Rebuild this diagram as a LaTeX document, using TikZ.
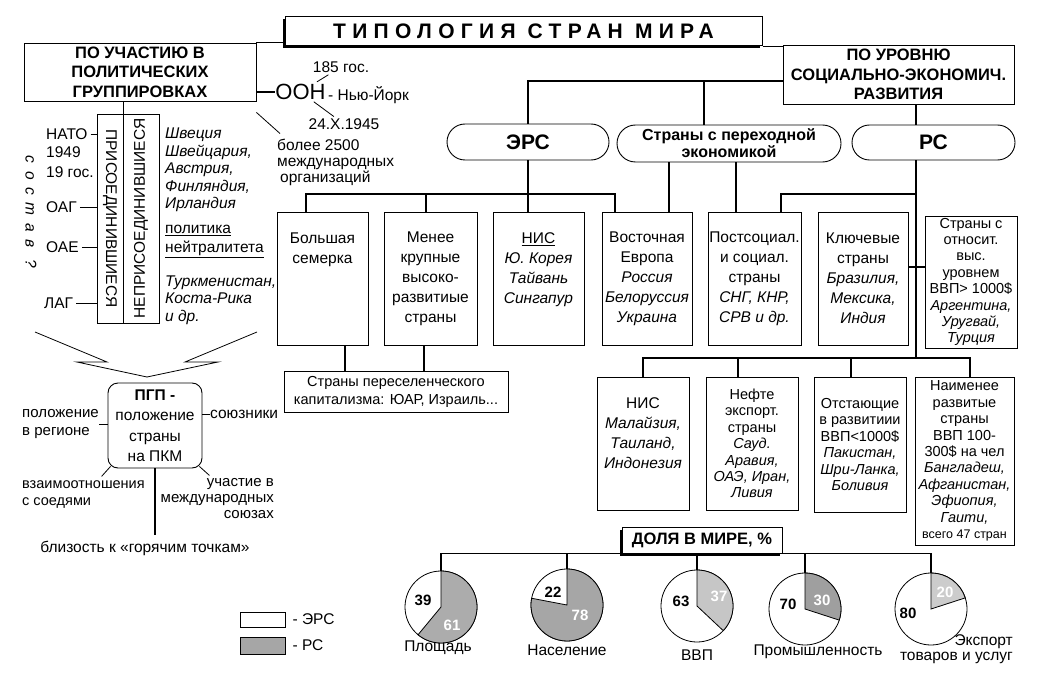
\documentclass[tikz,border=0pt]{standalone}
\usepackage{fontspec}
\setmainfont{Liberation Sans}
\usepackage{tikz}
\usetikzlibrary{calc,shapes.misc,shadows}

\newcommand{\bodysz}{\fontsize{15.5}{20}\selectfont}
\newcommand{\listsz}{\fontsize{15.5}{17.5}\selectfont}
\newcommand{\smallsz}{\fontsize{14.5}{16.4}\selectfont}
\newcommand{\hdrsz}{\fontsize{16.5}{19.5}\selectfont\bfseries}
\newcommand{\bigsz}{\fontsize{21}{24}\selectfont\bfseries}

\begin{document}
\begin{tikzpicture}[x=1pt,y=-1pt,
    box/.style 2 args={draw,line width=0.9pt,minimum width=#1pt,minimum height=#2pt,inner sep=0pt,align=center,font=\bodysz},
    oval/.style 2 args={draw,rounded rectangle,line width=0.9pt,minimum width=#1pt,minimum height=#2pt,inner sep=0pt,align=center},
    shadowbox/.style={draw,fill=white,line width=1pt,inner sep=0pt,
        drop shadow={shadow xshift=-2.5pt,shadow yshift=-2.5pt,opacity=1,fill=black}},
    txt/.style={inner sep=0pt,font=\bodysz},
    lst/.style={inner sep=0pt,align=left,font=\listsz\itshape},
    link/.style={line width=1.2pt},
    tick/.style={line width=0.8pt},
    pie/.style={draw,circle,line width=0.8pt,minimum size=72pt,inner sep=0pt},
    num/.style={inner sep=0pt,font=\fontsize{15}{15}\selectfont\bfseries}]

    \useasboundingbox (0,0) rectangle (1046,679);

    % headings
    \node[shadowbox,minimum width=477pt,minimum height=29pt,font=\bigsz\addfontfeature{LetterSpace=30}] (title) at (523.5,31.5) {ТИПОЛОГИЯ СТРАН МИРА};
    \node[box={232}{58},font=\hdrsz] (pol) at (140,72) {ПО УЧАСТИЮ В\\ПОЛИТИЧЕСКИХ\\ГРУППИРОВКАХ};
    \node[box={231}{59},font=\hdrsz] (soc) at (898.5,74.5) {ПО УРОВНЮ\\СОЦИАЛЬНО-ЭКОНОМИЧ.\\РАЗВИТИЯ};
    \draw[link] (pol.north east) -- (pol.north east -| title.west);
    \draw[link] (title.south east) -- (title.south east -| soc.west);

    % UN
    \node[txt,font=\fontsize{22}{22}\selectfont] (oon) at (300.5,92) {ООН};
    \node[txt,anchor=west] (nyc) at (328,95) {- Нью-Йорк};
    \node[txt] (members) at (341,67) {185 гос.};
    \node[txt] (founded) at (344,124) {24.X.1945};
    \node[txt,anchor=west,align=left,font=\fontsize{15.5}{16}\selectfont] (orgs) at (277,162) {более 2500\\международных\\\hspace{3pt}организаций};
    \draw[link] (pol.east |- oon.west) -- (oon.west);
    \draw[tick,shorten <=4pt,shorten >=4pt] (oon) -- (members);
    \draw[tick,shorten <=3pt,shorten >=3pt] (oon) -- (founded);
    \draw[tick] ([yshift=-11pt]pol.south east) -- ([shift={(3pt,5pt)}]orgs.north west);

    % joined / non-joined
    \node[box={26}{209}] (joined) at (110,218.5) {\rotatebox{-90}{ПРИСОЕДИНИВШИЕСЯ}};
    \node[box={36}{209}] (nonjoined) at (141,218.5) {\rotatebox{90}{НЕПРИСОЕДИНИВШИЕСЯ}};
    \draw[link] (joined.north east) -- (joined.north east |- pol.south);

    \node[txt,anchor=west] (nato) at (46,134) {НАТО};
    \node[txt,anchor=west] (natoyear) at (46,152) {1949};
    \node[txt,anchor=west] (natocount) at (46,172) {19 гос.};
    \node[txt,anchor=west] (oas) at (46,207) {ОАГ};
    \node[txt,anchor=west] (oau) at (46,247) {ОАЕ};
    \node[txt,anchor=west] (las) at (44,303) {ЛАГ};
    \foreach \n in {nato,oas,oau,las}
        \draw[tick,shorten <=3pt] (\n.east) -- (\n.east -| joined.west);
    \node[txt,rotate=-90,font=\bodysz\itshape\addfontfeature{LetterSpace=50}] (sostav) at (31,212) {состав ?};

    \node[lst,anchor=west] (neutral) at (165,170) {Швеция\\Швейцария,\\Австрия,\\Финляндия,\\Ирландия};
    \node[txt,anchor=west,align=left,font=\fontsize{15.5}{19}\selectfont] (policy) at (165,241.5) {\underline{политика}\\\underline{нейтралитета}};
    \node[lst,anchor=west] (neutral2) at (165,300) {Туркменистан,\\Коста-Рика\\и др.};

    % arrow to PGP
    \draw[line width=0.8pt] (35,332) -- (107,362) -- (77,362) -- (147,377) -- (218,362) -- (185,362) -- (257,332);

    % PGP
    \node[draw,line width=0.9pt,rounded corners=10pt,minimum width=94pt,minimum height=85pt,inner sep=0pt,align=center,font=\fontsize{15.5}{20.5}\selectfont] (pgp) at (155,425.5) {\textbf{ПГП -}\\положение\\страны\\на ПКМ};
    \node[txt,anchor=west,align=left,font=\fontsize{15}{18}\selectfont] (region) at (22,424) {положение\\в регионе};
    \draw[tick] (region.east) -- (region.east -| pgp.west);
    \node[txt,anchor=west] (allies) at (210,414) {союзники};
    \draw[tick] (allies.west -| pgp.east) -- (allies.west);
    \node[txt,anchor=west,align=left,font=\fontsize{14.5}{17.5}\selectfont] (neighb) at (22,494.5) {взаимоотношения\\с соедями};
    \draw[tick] ([shift={(3pt,2pt)}]pgp.south west) -- ++(-9,10);
    \node[txt,anchor=east,align=right,font=\fontsize{15}{16}\selectfont] (unions) at (274,499) {участие в\\международных\\союзах};
    \draw[tick] ([shift={(-3pt,2pt)}]pgp.south east) -- ++(10,9);
    \node[txt] (hot) at (145,548) {близость к «горячим точкам»};
    \draw[link,shorten >=6pt] (pgp.south) -- (pgp.south |- hot.north);

    % groups by development
    \node[oval={162}{36},font=\fontsize{21}{21}\selectfont\bfseries] (ers) at (528,142) {ЭРС};
    \node[oval={224}{37},font=\fontsize{16}{17}\selectfont\bfseries] (trans) at (729,143.5) {Страны с переходной\\экономикой};
    \node[oval={163}{35},font=\fontsize{21}{21}\selectfont\bfseries] (rs) at (933.5,142.5) {РС};
    \coordinate (socj) at ([yshift=-6.5pt]soc.west);
    \draw[link] (socj) -| (ers.north);
    \draw[link] ([xshift=-25pt]trans.north) -- ([xshift=-25pt]trans.north |- socj);
    \draw[link] ([xshift=-17.5pt]rs.north) -- ([xshift=-17.5pt]rs.north |- soc.south);

    \node[box={91}{133}] (big7) at (322.5,278.5) {Большая\\семерка\\~\\~\\~};
    \node[box={93}{133}] (lessdev) at (430.5,278.5) {Менее\\крупные\\высоко-\\развитиые\\страны};
    \node[box={91}{133}] (nis1) at (538.5,278.5) {\underline{НИС}\\\textit{Ю. Корея}\\\textit{Тайвань}\\\textit{Сингапур}\\~};
    \node[box={90}{133}] (eeur) at (647,278.5) {Восточная\\Европа\\\textit{Россия}\\\textit{Белоруссия}\\\textit{Украина}};
    \node[box={93}{133}] (postsoc) at (754.5,278.5) {Постсоциал.\\и социал.\\страны\\\textit{СНГ, КНР,}\\\textit{СРВ и др.}};
    \node[box={90}{133}] (keyc) at (863,278.5) {Ключевые\\страны\\\textit{Бразилия,}\\\textit{Мексика,}\\\textit{Индия}};
    \node[box={92}{132},font=\smallsz] (relhigh) at (971,282) {Страны с\\относит.\\выс.\\уровнем\\ВВП> 1000\$\\\textit{Аргентина,}\\\textit{Уругвай,}\\\textit{Турция}};

    \coordinate (ersj) at (528,194);
    \draw[link] (ers.south) -- (ers.south |- nis1.north);
    \draw[link] ([xshift=-16.5pt]big7.north) |- (ersj) -| ([xshift=-32pt]eeur.north);
    \draw[link] ([xshift=-4.5pt]lessdev.north) -- ([xshift=-4.5pt]lessdev.north |- ersj);
    \draw[link] ([xshift=-60pt]trans.south) -- ([xshift=-60pt]trans.south |- eeur.north);
    \draw[link] ([xshift=7pt]trans.south) -- ([xshift=7pt]trans.south |- postsoc.north);

    \node[box={224}{41},font=\fontsize{14.5}{18}\selectfont] (settler) at (396,391.5) {Страны переселенческого\\капитализма: ЮАР, Израиль...};
    \draw[link] ([xshift=22.5pt]big7.south) -- ([xshift=22.5pt]big7.south |- settler.north);
    \draw[link] ([xshift=-6.5pt]lessdev.south) -- ([xshift=-6.5pt]lessdev.south |- settler.north);

    \coordinate (lowj) at (916,358);
    \draw[link] ([xshift=-17.5pt]rs.south) -- (lowj);
    \draw[link] ([xshift=26.5pt]postsoc.north) |- (lowj |- ersj);
    \draw[link] ([yshift=11.5pt]keyc.east) -- ([yshift=11.5pt]keyc.east -| relhigh.west);

    \node[box={92}{133}] (nis2) at (643,443.5) {НИС\\\textit{Малайзия,}\\\textit{Таиланд,}\\\textit{Индонезия}\\~};
    \node[box={92}{133},font=\smallsz] (oil) at (752,443.5) {Нефте\\экспорт.\\страны\\\textit{Сауд.}\\\textit{Аравия,}\\\textit{ОАЭ, Иран,}\\\textit{Ливия}};
    \node[box={92}{135},font=\smallsz] (lag) at (860,444.5) {Отстающие\\в развитиии\\ВВП<1000\$\\\textit{Пакистан,}\\\textit{Шри-Ланка,}\\\textit{Боливия}};
    \node[box={99}{168},font=\smallsz] (least) at (964.5,461) {Наименее\\развитые\\страны\\ВВП 100-\\300\$ на чел\\\textit{Бангладеш,}\\\textit{Афганистан,}\\\textit{Эфиопия,}\\\textit{Гаити,}\\{\fontsize{12.5}{16.4}\selectfont всего 47 стран}};
    \draw[link] (nis2.north) |- (lowj) -| ([xshift=5.5pt]least.north);
    \draw[link] ([xshift=-14pt]oil.north) -- ([xshift=-14pt]oil.north |- lowj);
    \draw[link] ([xshift=-9pt]lag.north) -- ([xshift=-9pt]lag.north |- lowj);

    % shares in the world
    \node[shadowbox,minimum width=160pt,minimum height=26pt,font=\hdrsz] (share) at (702,540) {ДОЛЯ В МИРЕ, \%};
    \node[pie] (pa) at (441,607) {};
    \node[pie] (pb) at (567,605) {};
    \node[pie] (pc) at (697,606) {};
    \node[pie] (pd) at (805,609) {};
    \node[pie] (pe) at (931,609) {};
    \draw[link] (pa.north) |- (share.south) -| (pe.north);
    \foreach \p in {pb,pc,pd}
        \draw[link] (\p.north) -- (\p.north |- share.south);
    \foreach \p/\v/\g in {pa/61/65,pb/78/70,pc/37/45,pd/30/75,pe/20/40}
        \filldraw[fill=gray!\g,line width=0.8pt] (\p.center) -- ++(90:36pt) arc[start angle=90,delta angle=-3.6*\v,radius=36pt] -- cycle;

    \node[num] (pa1) at ([shift={(-18pt,7pt)}]pa.center) {39};
    \node[num,white] (pa2) at ([shift={(11pt,-18pt)}]pa.center) {61};
    \node[num] (pb1) at ([shift={(-14pt,13pt)}]pb.center) {22};
    \node[num,white] (pb2) at ([shift={(13pt,-10pt)}]pb.center) {78};
    \node[num] (pc1) at ([shift={(-16pt,5pt)}]pc.center) {63};
    \node[num,white] (pc2) at ([shift={(22pt,10pt)}]pc.center) {37};
    \node[num] (pd1) at ([shift={(-17pt,5pt)}]pd.center) {70};
    \node[num,white] (pd2) at ([shift={(17pt,9pt)}]pd.center) {30};
    \node[num,white] (pe2) at ([shift={(14pt,17pt)}]pe.center) {20};
    \node[num] (pe1) at ([shift={(-23pt,-4pt)}]pe.center) {80};

    \node[txt] (pal) at (438,648) {Площадь};
    \node[txt] (pbl) at (567,650) {Население};
    \node[txt] (pcl) at (697,655) {ВВП};
    \node[txt] (pdl) at (818,652) {Промышленность};
    \node[txt,anchor=east,align=right,font=\fontsize{15.5}{14.5}\selectfont] (pel) at (1013,649) {Экспорт\\товаров и услуг};

    % legend
    \node[draw,line width=0.8pt,minimum width=45pt,minimum height=15pt,inner sep=0pt] (lgw) at (262.5,619.5) {};
    \node[draw,fill=gray!70,line width=0.8pt,minimum width=45pt,minimum height=17pt,inner sep=0pt] (lgd) at (262.5,645.5) {};
    \node[txt,anchor=west] (lgers) at ([xshift=7pt]lgw.east) {- ЭРС};
    \node[txt,anchor=west] (lgrs) at ([xshift=7pt]lgd.east) {- РС};
\end{tikzpicture}
\end{document}
